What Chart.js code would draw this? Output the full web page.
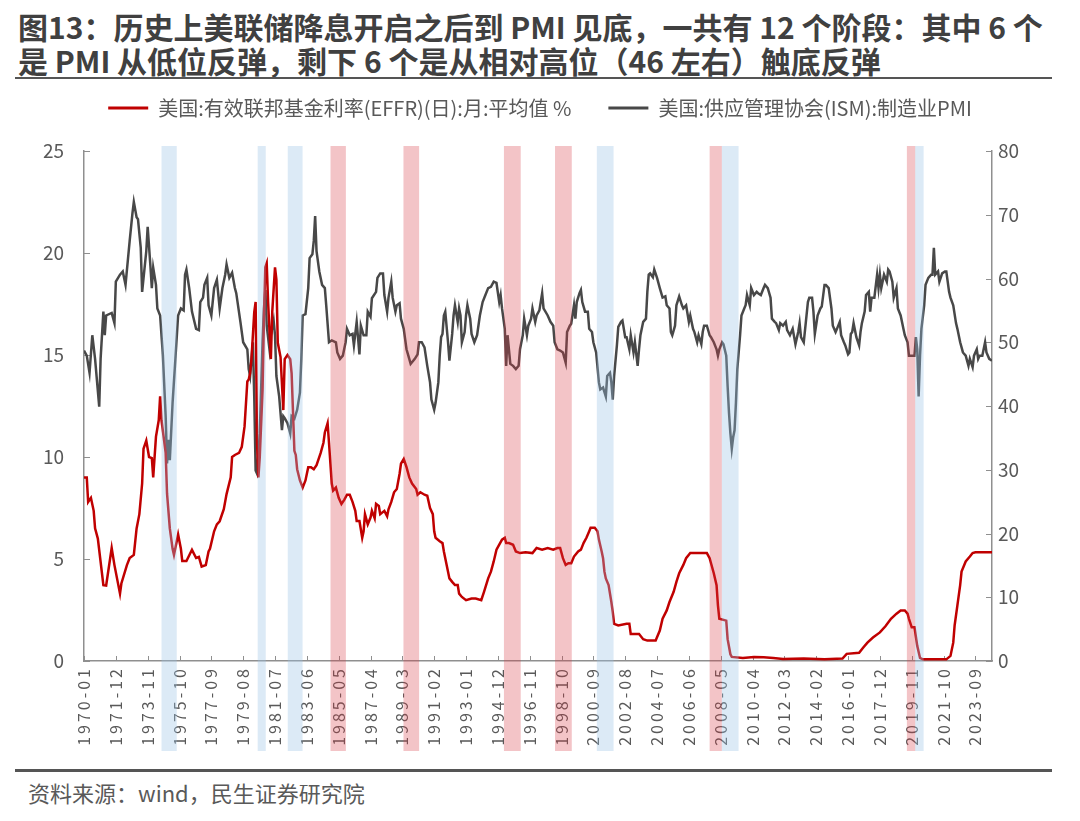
<!DOCTYPE html>
<html>
<head>
<meta charset="utf-8">
<script src="https://cdn.jsdelivr.net/npm/chart.js@4.4.1/dist/chart.umd.min.js"></script>
<style>
  body { margin: 0; background: #fff; font-family: "Noto Sans CJK SC", "Noto Sans", sans-serif; }
  #page { position: relative; width: 1080px; height: 821px; overflow: hidden; }
  #title { position: absolute; left: 18px; top: 9px; font-size: 30px; font-weight: 700; line-height: 34px; color: #404040; white-space: nowrap; }
  .rule { position: absolute; left: 15px; width: 1037px; background: #555; }
  #foot { position: absolute; left: 28px; top: 779px; font-size: 22px; line-height: 26px; color: #595959; }
  #wrap { position: absolute; left: 0; top: 85px; width: 1080px; height: 680px; }
</style>
</head>
<body>
<div id="page">
  <div id="title">图13：历史上美联储降息开启之后到 PMI 见底，一共有 12 个阶段：其中 6 个<br>是 PMI 从低位反弹，剩下 6 个是从相对高位（46 左右）触底反弹</div>
  <div class="rule" style="top:77px;height:2px"></div>
  <div id="wrap"><canvas id="c" width="1080" height="680"></canvas></div>
  <div class="rule" style="top:769px;height:3px"></div>
  <div id="foot">资料来源：wind，民生证券研究院</div>
</div>
<script>
// months are counted from 1970-01 (0) to 2024-09 (656)
const startYear = 1970;
const lastMonth = 656;
const tickStep = 23;

const effrLabel = '美国:有效联邦基金利率(EFFR)(日):月:平均值 %';
const pmiLabel = '美国:供应管理协会(ISM):制造业PMI';

// [month, %]
const effrPoints = [
  [0,9.0],[2,9.0],[3,7.8],[5,8.0],[7,7.36],[8,6.5],[10,6.0],[14,3.72],[16,3.7],[20,5.54],[22,4.7],[26,3.3],[27,3.8],
  [31,4.7],[33,5.05],[36,5.2],[38,6.5],[40,7.2],[42,8.7],[43,10.4],[45,10.8],[47,10.0],[49,9.95],[50,9.0],[52,11.0],
  [54,11.8],[55,12.98],[56,11.8],[59,10.2],[60,8.2],[62,6.5],[64,5.5],[65,5.2],[68,6.2],[70,5.5],[71,4.9],[74,4.9],
  [78,5.45],[81,5.05],[83,5.1],[85,4.63],[88,4.7],[90,5.37],[91,5.5],[94,6.36],[96,6.7],[98,6.85],[101,7.44],[103,8.18],
  [106,9.0],[107,10.0],[109,10.1],[112,10.2],[114,10.5],[116,11.5],[118,13.7],[119,13.8],[120,14.1],[121,14.8],[123,17.1],
  [124,17.6],[125,10.7],[126,9.0],[127,10.0],[129,13.3],[130,16.8],[131,19.3],[132,19.5],[133,17.6],[135,14.8],[136,17.1],
  [138,19.3],[139,18.7],[140,15.6],[142,14.9],[144,12.3],[145,14.8],[147,15.0],[149,14.8],[150,14.1],[152,10.3],[153,10.1],
  [154,9.4],[156,8.85],[158,8.5],[160,8.85],[162,9.5],[164,9.5],[166,9.4],[168,9.6],[171,10.2],[173,10.7],[174,11.2],
  [176,11.66],[177,10.7],[179,8.7],[180,8.35],[182,8.5],[184,8.0],[186,7.7],[188,7.9],[190,8.15],[192,8.15],[194,7.8],
  [196,7.36],[197,6.86],[199,6.86],[201,6.04],[202,6.36],[203,7.2],[205,6.7],[207,7.03],[208,7.36],[210,7.0],[211,7.7],
  [213,7.6],[214,7.2],[217,7.36],[219,7.1],[220,7.44],[222,7.8],[224,8.27],[226,8.43],[228,9.18],[229,9.67],[231,9.9],
  [233,9.5],[235,9.0],[237,8.7],[240,8.43],[241,8.15],[243,8.27],[246,8.15],[248,8.1],[250,7.5],[252,7.2],[253,6.36],
  [254,6.04],[257,5.87],[259,5.78],[260,5.37],[262,4.71],[264,4.05],[266,3.88],[268,3.72],[270,3.72],[271,3.3],[273,3.14],
  [276,2.98],[280,3.06],[283,3.06],[287,2.98],[289,3.39],[292,4.05],[294,4.38],[296,4.88],[298,5.46],[300,5.7],[302,5.95],
  [304,6.04],[305,5.78],[307,5.78],[310,5.7],[312,5.37],[315,5.29],[319,5.33],[324,5.29],[327,5.54],[331,5.46],[335,5.54],
  [339,5.46],[342,5.54],[344,5.54],[346,5.04],[348,4.71],[350,4.79],[352,4.79],[354,5.12],[357,5.37],[359,5.46],[361,5.79],
  [363,6.04],[365,6.36],[366,6.53],[369,6.53],[371,6.36],[372,5.95],[374,5.37],[375,5.04],[376,4.38],[377,4.05],[379,3.72],
  [381,2.89],[382,2.4],[383,1.82],[386,1.74],[392,1.82],[394,1.82],[395,1.32],[401,1.32],[404,1.07],[407,1.0],[413,1.0],
  [416,1.49],[418,2.07],[421,2.48],[423,2.89],[426,3.39],[428,3.88],[430,4.3],[433,4.71],[435,5.04],[438,5.29],[450,5.29],
  [452,5.04],[453,4.79],[455,4.3],[457,3.72],[458,2.73],[459,2.07],[464,1.98],[465,1.07],[467,0.33],[468,0.2],[476,0.15],
  [484,0.2],[491,0.18],[498,0.15],[505,0.1],[520,0.12],[535,0.09],[548,0.12],[551,0.35],[560,0.4],[563,0.66],[566,0.9],
  [570,1.15],[575,1.4],[579,1.7],[583,2.07],[587,2.32],[590,2.48],[593,2.48],[595,2.32],[596,2.07],[598,1.65],[600,1.65],
  [602,0.74],[604,0.15],[606,0.08],[623,0.08],[626,0.25],[628,0.9],[629,1.74],[631,2.73],[633,3.72],[634,4.38],[637,4.88],
  [640,5.12],[642,5.29],[644,5.33],[656,5.33]
];

// [month, index]
const pmiPoints = [
  [0,48.7],[2,47.9],[4,45.2],[6,51.1],[8,47.4],[11,39.9],[12,47.4],[14,54.8],[15,51.1],[16,54.2],[20,54.6],[22,53.0],
  [23,59.5],[26,60.6],[28,61.1],[30,59.0],[33,65.9],[35,70.2],[36,72.0],[38,69.6],[39,69.3],[41,64.8],[42,57.9],[45,64.3],
  [46,68.1],[48,61.9],[49,58.5],[50,61.7],[52,59.0],[53,55.3],[55,54.2],[57,47.9],[59,38.4],[60,31.0],[61,34.7],[62,31.5],
  [64,40.5],[66,47.3],[68,54.2],[70,55.3],[72,55.0],[73,60.6],[74,61.4],[76,58.5],[78,54.8],[81,52.1],[83,51.9],[84,56.3],
  [86,57.0],[87,59.0],[89,60.1],[90,55.8],[92,54.2],[94,58.5],[96,59.8],[98,55.3],[100,58.5],[102,60.6],[103,62.2],[105,60.1],
  [107,60.9],[109,58.5],[110,57.7],[113,53.2],[115,50.0],[118,48.9],[119,45.8],[120,44.7],[122,50.0],[123,41.5],[124,29.9],
  [125,29.4],[127,35.7],[129,50.0],[130,55.3],[131,58.2],[132,52.6],[134,48.9],[135,51.1],[137,53.4],[138,51.1],[139,44.7],
  [141,41.5],[143,36.2],[144,38.4],[145,38.1],[147,37.3],[149,35.7],[150,38.4],[152,38.0],[154,39.4],[156,42.1],[157,47.4],
  [158,54.2],[160,54.4],[162,58.5],[163,63.2],[165,63.8],[166,65.9],[167,69.8],[168,64.3],[170,61.1],[172,59.0],[174,58.5],
  [175,55.8],[177,50.0],[179,50.3],[182,50.0],[183,48.4],[185,47.4],[187,47.9],[189,50.0],[190,52.1],[192,51.1],[194,51.3],
  [195,49.5],[197,53.2],[199,48.1],[200,52.6],[202,51.1],[204,51.1],[205,54.8],[207,54.0],[208,56.9],[211,57.9],[212,60.1],
  [214,60.8],[216,60.8],[217,57.4],[219,54.8],[220,57.0],[222,59.5],[223,57.0],[225,54.8],[226,55.8],[228,56.1],[229,53.7],
  [231,52.1],[233,48.9],[235,47.4],[236,46.6],[239,47.4],[241,48.1],[242,50.0],[244,50.0],[246,49.2],[248,46.3],[250,43.7],
  [251,41.0],[253,39.4],[254,40.5],[256,43.7],[257,47.9],[258,50.8],[259,51.3],[260,54.2],[261,54.8],[263,50.0],[264,47.1],
  [266,51.3],[267,54.2],[268,55.8],[270,53.2],[271,55.3],[272,54.2],[273,50.0],[275,51.6],[276,54.2],[277,55.8],[279,53.7],
  [280,51.3],[282,50.0],[284,51.1],[286,54.2],[288,56.3],[290,57.4],[292,58.5],[294,58.7],[296,59.5],[298,59.3],[300,56.3],
  [301,57.4],[302,55.3],[304,52.1],[305,46.3],[306,51.1],[308,46.6],[310,46.3],[312,45.8],[314,46.3],[315,48.9],[317,51.1],
  [318,53.7],[320,51.1],[321,52.6],[323,53.7],[324,55.3],[326,53.2],[327,54.2],[329,55.0],[331,57.7],[332,55.3],[335,54.2],
  [337,53.2],[339,52.6],[340,50.0],[342,48.9],[344,48.7],[346,48.4],[348,46.8],[349,51.6],[351,52.6],[352,52.9],[354,55.8],
  [355,53.7],[356,56.3],[358,57.7],[359,58.2],[360,56.3],[362,54.8],[364,54.8],[365,52.1],[367,51.6],[368,50.0],[370,48.4],
  [372,43.7],[373,42.6],[375,42.9],[377,41.5],[378,44.7],[380,45.2],[381,43.7],[382,41.0],[383,44.7],[385,49.5],[386,52.4],
  [388,53.2],[389,53.4],[391,50.8],[392,50.8],[394,48.9],[395,51.1],[397,48.4],[398,50.0],[400,46.3],[401,48.9],[402,51.1],
  [404,53.2],[406,53.7],[407,57.9],[408,60.6],[409,60.8],[411,60.2],[412,61.4],[414,60.1],[416,58.5],[418,57.0],[420,57.2],
  [421,55.8],[423,55.3],[424,51.6],[425,51.1],[427,52.6],[428,55.8],[430,57.2],[432,55.8],[433,55.3],[435,55.8],[437,53.2],
  [438,54.2],[440,52.1],[441,51.6],[443,50.0],[444,51.1],[446,49.7],[447,51.6],[448,52.6],[450,52.6],[452,51.1],[453,50.8],
  [455,50.0],[457,48.9],[458,47.9],[459,48.9],[461,50.0],[462,49.7],[464,47.9],[465,43.1],[466,38.9],[467,35.7],[468,33.3],
  [469,35.1],[470,36.2],[471,40.5],[472,45.8],[474,51.1],[475,54.2],[477,55.3],[478,55.8],[479,57.4],[481,55.8],[482,58.5],
  [484,57.4],[486,57.9],[487,57.7],[489,57.4],[491,58.5],[492,59.0],[494,58.5],[496,57.0],[497,53.7],[499,53.2],[500,53.0],
  [502,51.9],[503,53.0],[505,52.6],[507,53.2],[508,51.9],[510,51.1],[512,52.1],[514,49.7],[516,51.6],[517,53.0],[518,50.8],
  [520,50.0],[521,52.1],[523,56.3],[524,57.0],[526,57.0],[527,54.8],[528,51.3],[530,54.2],[532,55.3],[533,55.6],[535,59.0],
  [536,59.0],[538,58.5],[540,55.3],[541,52.6],[543,51.6],[544,52.1],[546,53.2],[547,51.1],[549,50.0],[550,49.5],[552,48.1],
  [553,48.4],[554,51.3],[555,51.6],[556,53.0],[558,50.8],[560,49.5],[561,51.6],[562,53.0],[564,54.8],[565,57.4],[567,57.9],
  [568,54.8],[569,57.0],[571,57.0],[573,60.6],[574,58.5],[575,60.6],[576,58.5],[578,60.6],[580,59.5],[581,61.4],[582,61.1],
  [584,59.5],[585,57.0],[587,58.5],[588,55.3],[590,54.2],[592,52.1],[593,51.1],[595,50.0],[596,47.9],[598,47.9],[600,47.9],
  [601,50.8],[602,48.9],[603,41.5],[604,47.9],[605,52.1],[607,55.8],[608,59.0],[610,60.1],[612,60.6],[613,60.6],[614,64.8],
  [615,60.6],[617,61.1],[618,59.5],[620,60.8],[622,61.1],[623,61.1],[625,57.9],[626,57.0],[628,55.8],[630,53.0],[631,52.1],
  [633,50.0],[635,48.4],[637,47.9],[639,46.3],[640,47.4],[642,46.1],[643,47.9],[645,48.9],[646,47.4],[647,47.9],[649,47.9],
  [651,50.0],[652,48.4],[654,47.4],[656,47.1]
];

// shaded stages, [start month, end month]
const blueBands = [[56,67],[125.5,131.3],[147.2,157.9],[370.5,382.6],[460.8,472.9],[600.5,606.6]];
const redBands = [[178.1,189.2],[230.8,242.1],[303.4,315.5],[340.3,352.4],[452,460.8],[594.5,600.5]];

function monthLabel(m) {
  const y = startYear + Math.floor(m / 12);
  const mm = m % 12 + 1;
  return y + '-' + String(mm).padStart(2, '0');
}

const fontFamily = "'Noto Sans CJK SC', 'Noto Sans', sans-serif";
const axisColor = '#8f8f8f';
const textColor = '#595959';

// short tick marks pointing into the plot
const tickMarks = {
  id: 'tickMarks',
  beforeDatasetsDraw(chart) {
    const {ctx, chartArea: a, scales} = chart;
    ctx.save();
    ctx.strokeStyle = axisColor;
    ctx.lineWidth = 1;
    ctx.beginPath();
    scales.x.ticks.forEach(t => {
      const px = Math.round(scales.x.getPixelForValue(t.value)) + 0.5;
      ctx.moveTo(px, a.bottom);
      ctx.lineTo(px, a.bottom - 5);
    });
    scales.yL.ticks.forEach(t => {
      const py = Math.round(scales.yL.getPixelForValue(t.value)) + 0.5;
      ctx.moveTo(a.left, py);
      ctx.lineTo(a.left + 6, py);
    });
    scales.yR.ticks.forEach(t => {
      const py = Math.round(scales.yR.getPixelForValue(t.value)) + 0.5;
      ctx.moveTo(a.right, py);
      ctx.lineTo(a.right - 6, py);
    });
    ctx.stroke();
    ctx.restore();
  }
};

// translucent stage bands laid over lines and labels
const stageBands = {
  id: 'stageBands',
  afterDraw(chart) {
    const {ctx, chartArea: a, scales: {x}} = chart;
    ctx.save();
    const paint = (list, color) => list.forEach(([s, e]) => {
      const x1 = x.getPixelForValue(s);
      const x2 = x.getPixelForValue(e);
      ctx.fillStyle = color;
      ctx.fillRect(x1, a.top - 5, x2 - x1, a.bottom - a.top + 95);
    });
    paint(blueBands, 'rgba(155,194,230,0.35)');
    paint(redBands, 'rgba(215,60,70,0.3)');
    ctx.restore();
  }
};

// the date labels are spread out a little
const spacedLabels = {
  id: 'spacedLabels',
  afterLayout(chart) {
    const s = chart.scales.x;
    if (s._spaced) return;
    const orig = s.drawLabels;
    s.drawLabels = function (area) {
      this.ctx.save();
      this.ctx.letterSpacing = '3px';
      orig.call(this, area);
      this.ctx.restore();
    };
    s._spaced = true;
  }
};

new Chart(document.getElementById('c'), {
  type: 'line',
  data: {
    datasets: [
      {
        label: effrLabel,
        data: effrPoints.map(([m, v]) => ({x: m, y: v})),
        borderColor: '#c00000',
        backgroundColor: '#c00000',
        borderWidth: 2.5,
        pointRadius: 0,
        yAxisID: 'yL'
      },
      {
        label: pmiLabel,
        data: pmiPoints.map(([m, v]) => ({x: m, y: v})),
        borderColor: '#484848',
        backgroundColor: '#484848',
        borderWidth: 2.5,
        pointRadius: 0,
        yAxisID: 'yR'
      }
    ]
  },
  options: {
    responsive: false,
    animation: false,
    devicePixelRatio: 1,
    layout: {padding: {top: -24, left: 0, right: 0, bottom: 0}},
    plugins: {
      legend: {
        labels: {
          font: {family: fontFamily, size: 20},
          color: textColor,
          boxWidth: 40,
          boxHeight: 3,
          padding: 37,
          generateLabels(chart) {
            return Chart.defaults.plugins.legend.labels.generateLabels(chart)
              .map(l => Object.assign(l, {lineWidth: 0}));
          }
        }
      },
      title: {display: true, text: '', weight: 500, padding: 0, font: {size: 23, lineHeight: 1}},
      tooltip: {enabled: false}
    },
    scales: {
      x: {
        type: 'linear',
        min: 0,
        max: lastMonth,
        grid: {display: false, drawTicks: false},
        border: {color: axisColor, width: 1.5},
        ticks: {
          stepSize: tickStep,
          includeBounds: false,
          autoSkip: false,
          minRotation: 90,
          maxRotation: 90,
          padding: 5,
          color: textColor,
          font: {family: fontFamily, size: 16},
          callback: v => monthLabel(v)
        },
        afterFit(s) { s.height = 104; }
      },
      yL: {
        position: 'left',
        min: 0,
        max: 25,
        grid: {display: false, drawTicks: false},
        border: {color: axisColor, width: 1.5},
        ticks: {stepSize: 5, padding: 20, color: textColor, font: {family: fontFamily, size: 19}},
        afterFit(s) { s.width = 84; }
      },
      yR: {
        position: 'right',
        min: 0,
        max: 80,
        grid: {display: false, drawTicks: false},
        border: {color: axisColor, width: 1.5},
        ticks: {stepSize: 10, padding: 6, color: textColor, font: {family: fontFamily, size: 19}},
        afterFit(s) { s.width = 88; }
      }
    }
  },
  plugins: [tickMarks, stageBands, spacedLabels]
});
</script>
</body>
</html>
